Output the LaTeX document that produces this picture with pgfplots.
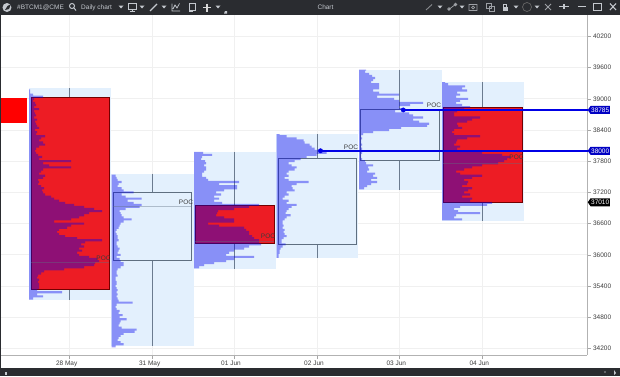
\documentclass[border=0pt]{standalone}
\usepackage{fontspec}
\setmainfont{Liberation Sans}
\usepackage{pgfplots}
\usepackage{pgfplotstable}
\pgfplotsset{compat=1.18}
\usetikzlibrary{shapes.symbols}
\definecolor{panelc}{HTML}{E3F0FD}
\definecolor{barc}{HTML}{2A2C30}
\definecolor{redc}{HTML}{ED1C24}
\definecolor{edgec}{HTML}{5F6F80}
\definecolor{wickc}{HTML}{6B7B8F}
\definecolor{poscol}{HTML}{0000E6}
\definecolor{profc}{rgb}{0,0,0.94}
\definecolor{tbc}{HTML}{C4C8CE}
\definecolor{lblc}{HTML}{3C3C3C}
\newcommand{\fs}{\fontsize{6.5}{7.5}\selectfont}
\begin{document}
\begin{tikzpicture}
\begin{axis}[
  scale only axis, width=586pt, height=340pt,
  xmin=1, xmax=587, ymin=34073, ymax=40611.5,
  clip=false,
  axis y line*=right, axis x line*=bottom,
  axis line style={-,draw=gray!60,line width=0.9pt},
  tick align=outside, major tick length=4pt,
  tick style={draw=gray!70,line width=0.5pt},
  grid=major, major grid style={draw=black!6,line width=0.7pt},
  xtick={69.7,152.7,234,317,399.3,482.3},
  xticklabels={28 May,31 May,01 Jun,02 Jun,03 Jun,04 Jun},
  ytick={34200,34800,35400,36000,36600,37200,37800,38400,39000,39600,40200},
  scaled y ticks=false,
  tick label style={font=\fs,text=lblc},
  xticklabel style={xshift=-3pt,yshift=1.5pt},
  yticklabel style={xshift=-1.5pt,/pgf/number format/.cd, fixed, 1000 sep={}, assume math mode=true},
]
\pgfplotsset{
  panel/.style={fill=panelc,draw=none},
  wick/.style={draw=wickc,line width=0.8pt},
  prof/.style={const plot,fill=profc,fill opacity=0.4,draw=none,mark=none},
  box/.style={fill=panelc,draw=edgec,line width=0.8pt},
  cand/.style={fill=redc,draw=black!55!red,line width=0.6pt},
  pocl/.style={draw=edgec,line width=0.5pt,opacity=0.4},
  hline/.style={draw=poscol,line width=1.8pt},
}
\addplot[panel] coordinates {(28.5,39200) (110.5,39200) (110.5,35140) (28.5,35140)} -- cycle;
\addplot[panel] coordinates {(111,37560) (193.5,37560) (193.5,34240) (111,34240)} -- cycle;
\addplot[panel] coordinates {(193.5,37980) (276,37980) (276,35730) (193.5,35730)} -- cycle;
\addplot[panel] coordinates {(276,38320) (358,38320) (358,35930) (276,35930)} -- cycle;
\addplot[panel] coordinates {(358.5,39560) (441.5,39560) (441.5,37245) (358.5,37245)} -- cycle;
\addplot[panel] coordinates {(441.5,39320) (523.5,39320) (523.5,36655) (441.5,36655)} -- cycle;
\addplot[wick] coordinates {(69.7,39200) (69.7,35140)};
\addplot[wick] coordinates {(152.7,37560) (152.7,34240)};
\addplot[wick] coordinates {(234,37980) (234,35730)};
\addplot[wick] coordinates {(317,38320) (317,35930)};
\addplot[wick] coordinates {(399.3,39560) (399.3,37245)};
\addplot[wick] coordinates {(482.3,39320) (482.3,36655)};
\addplot[fill=red,draw=none] coordinates {(1,39015) (27,39015) (27,38535) (1,38535)} -- cycle;
\addplot[cand] coordinates {(31,39029) (109,39029) (109,35343) (31,35343)} -- cycle;
\addplot[box] coordinates {(113.3,37194) (191.3,37194) (191.3,35900) (113.3,35900)} -- cycle;
\addplot[cand] coordinates {(195.3,36958) (273.8,36958) (273.8,36227) (195.3,36227)} -- cycle;
\addplot[box] coordinates {(278.7,37856) (356,37856) (356,36202) (278.7,36202)} -- cycle;
\addplot[box] coordinates {(360.7,38790) (439.3,38790) (439.3,37823) (360.7,37823)} -- cycle;
\addplot[cand] coordinates {(443.3,38829) (522,38829) (522,37010) (443.3,37010)} -- cycle;
% day 1 profile
\addplot[prof] table[x expr=\thisrow{w}+29, y expr=\thisrow{p}-20] {
p w
39200 0
39200 1
39160 1
39120 1
39080 4
39040 14
39000 5
38960 4
38920 6
38880 7
38840 5
38800 10
38760 5
38720 6
38680 7
38640 5
38600 8
38560 6
38520 7
38480 8
38440 10
38400 6
38360 8
38320 7
38280 16
38240 12
38200 10
38160 14
38120 16
38080 10
38040 7
38000 6
37960 7
37920 9
37880 13
37840 10
37800 42
37760 14
37720 20
37680 42
37640 14
37600 12
37560 10
37520 16
37480 14
37440 9
37400 10
37360 9
37320 12
37280 15
37240 13
37200 14
37160 16
37120 22
37080 25
37040 30
37000 36
36960 45
36920 55
36880 65
36840 73
36800 60
36760 55
36720 50
36680 42
36640 25
36600 55
36560 42
36520 38
36480 30
36440 28
36400 30
36360 36
36320 48
36280 73
36240 56
36200 52
36160 55
36120 50
36080 53
36040 48
36000 50
35960 60
35920 68
35880 70
35840 66
35800 65
35760 55
35720 35
35680 15
35640 12
35600 9
35560 8
35520 10
35480 9
35440 10
35400 10
35360 10
35320 8
35280 33
35240 8
35200 14
35160 4
35160 0
};
% day 2 profile
\addplot[prof] table[x expr=\thisrow{w}+111.5, y expr=\thisrow{p}-20] {
p w
37560 0
37560 4
37520 4
37480 5
37440 6
37400 10
37360 7
37320 6
37280 10
37240 12
37200 22
37160 10
37120 14
37080 30
37040 16
37000 22
36960 30
36920 28
36880 14
36840 8
36800 9
36760 10
36720 12
36680 20
36640 12
36600 9
36560 8
36520 7
36480 5
36440 4
36400 5
36360 6
36320 6
36280 7
36240 5
36200 5
36160 6
36120 8
36080 7
36040 6
36000 9
35960 5
35920 8
35880 9
35840 12
35800 12
35760 9
35720 6
35680 5
35640 5
35600 6
35560 4
35520 4
35480 5
35440 5
35400 4
35360 5
35320 6
35280 5
35240 6
35200 5
35160 6
35120 7
35080 21
35040 5
35000 4
34960 5
34920 8
34880 7
34840 11
34800 8
34760 15
34720 9
34680 8
34640 7
34600 10
34560 25
34520 23
34480 12
34440 9
34400 7
34360 6
34320 9
34280 12
34240 4
34240 0
};
% day 3 profile
\addplot[prof] table[x expr=\thisrow{w}+194, y expr=\thisrow{p}-20] {
p w
38000 0
37960 9
37920 18
37880 8
37840 7
37800 11
37760 12
37720 10
37680 12
37640 12
37600 10
37560 8
37520 8
37480 12
37440 14
37400 45
37360 25
37320 43
37280 43
37240 30
37200 22
37160 27
37120 20
37080 25
37040 20
37000 28
36960 65
36920 55
36880 40
36840 24
36800 23
36760 22
36720 30
36680 40
36640 40
36600 14
36560 25
36520 50
36480 52
36440 55
36400 55
36360 58
36320 60
36280 65
36240 65
36200 67
36160 55
36120 50
36080 40
36040 35
36000 32
35960 60
35920 40
35880 32
35840 20
35800 10
35760 5
35760 0
};
% day 4 profile
\addplot[prof] table[x expr=\thisrow{w}+276.5, y expr=\thisrow{p}-20] {
p w
38340 0
38320 3
38280 10
38240 20
38200 27
38160 28
38120 33
38080 35
38040 38
38000 45
37960 50
37920 40
37880 30
37840 24
37800 18
37760 12
37720 15
37680 20
37640 18
37600 12
37560 10
37520 12
37480 8
37440 12
37400 32
37360 20
37320 15
37280 16
37240 18
37200 10
37160 12
37120 8
37080 6
37040 12
37000 10
36960 20
36920 15
36880 12
36840 10
36800 9
36760 14
36720 10
36680 8
36640 6
36600 6
36560 7
36520 6
36480 8
36440 7
36400 8
36360 10
36320 7
36280 5
36240 5
36200 9
36160 6
36120 4
36080 3
36040 3
36000 2
35960 2
35960 0
};
% day 5 profile
\addplot[prof] table[x expr=\thisrow{w}+359, y expr=\thisrow{p}-20] {
p w
39580 0
39560 7
39520 6
39480 10
39440 13
39400 16
39360 14
39320 12
39280 20
39240 20
39200 20
39160 14
39120 20
39080 40
39040 18
39000 35
38960 40
38920 64
38880 51
38840 40
38800 44
38760 36
38720 50
38680 54
38640 64
38600 54
38560 60
38520 70
38480 68
38440 42
38400 30
38360 14
38320 4
38280 2
38240 3
38200 2
38160 2
38120 3
38080 2
38040 3
38000 2
37960 3
37920 2
37880 2
37840 3
37800 6
37760 7
37720 14
37680 9
37640 10
37600 8
37560 16
37520 14
37480 18
37440 12
37400 18
37360 12
37320 8
37280 5
37280 0
};
% day 6 profile
\addplot[prof] table[x expr=\thisrow{w}+442, y expr=\thisrow{p}-20] {
p w
39340 0
39320 3
39280 6
39240 23
39200 20
39160 25
39120 15
39080 18
39040 14
39000 26
38960 18
38920 14
38880 20
38840 28
38800 22
38760 15
38720 12
38680 12
38640 38
38600 30
38560 25
38520 15
38480 16
38440 20
38400 12
38360 10
38320 12
38280 38
38240 25
38200 15
38160 14
38120 12
38080 18
38040 15
38000 14
37960 40
37920 60
37880 68
37840 65
37800 62
37760 56
37720 40
37680 30
37640 22
37600 14
37560 18
37520 40
37480 30
37440 22
37400 26
37360 25
37320 20
37280 30
37240 26
37200 22
37160 28
37120 20
37080 30
37040 28
37000 50
36960 45
36920 18
36880 12
36840 16
36800 38
36760 14
36720 12
36680 20
36680 0
};
\addplot[pocl] coordinates {(31,35862) (109,35862)};
\addplot[pocl] coordinates {(113.3,36925) (191.3,36925)};
\addplot[pocl] coordinates {(195.3,36265) (273.8,36265)};
\addplot[pocl] coordinates {(443.3,37766) (522,37766)};
\addplot[hline] coordinates {(320.5,38000) (588,38000)};
\addplot[hline] coordinates {(403.3,38785) (588,38785)};
\addplot[only marks,mark=*,mark size=2.2pt,mark options={fill=poscol,draw=poscol}] coordinates {(320.5,38000) (403.3,38785)};
\foreach \x/\p in {103.5/35939,186/37016,268/36362,351/38073,434/38871,516.5/37881}{
  \edef\tmp{\noexpand\node[font=\noexpand\fs,text=lblc,inner sep=0pt] at (axis cs:\x,\p) {POC};}\tmp
}
\node[signal,signal to=west,signal pointer angle=110,fill=poscol!85!black,text=white,font=\fs,inner sep=0.6pt,minimum height=8pt,anchor=west] at (axis cs:587.5,38785) {38785};
\node[signal,signal to=west,signal pointer angle=110,fill=poscol!85!black,text=white,font=\fs,inner sep=0.6pt,minimum height=8pt,anchor=west] at (axis cs:587.5,38000) {38000};
\node[signal,signal to=west,signal pointer angle=110,fill=black,text=white,font=\fs,inner sep=0.6pt,minimum height=8pt,anchor=west] at (axis cs:587.5,37010) {37010};
\end{axis}
\begin{scope}[shift={(-1pt,355pt)},x=1pt,y=-1pt]
\path[use as bounding box] (0,0) rectangle (620,376);
\fill[barc] (0,0) rectangle (620,15);
\fill[barc] (0,368) rectangle (620,376);
\fill[barc] (0,15) rectangle (1,368);
\fill[tbc] (7,7.5) circle (4.5);
\fill[barc] (7.5,6) -- (11,4) -- (9,9) -- (5,10) -- cycle;
\node[font=\fs,text=tbc,anchor=west,inner sep=0pt] at (17,7.5) {\#BTCM1@CME};
\draw[tbc,line width=1pt] (72,6) circle (2.5) (74,8) -- (76,10.5);
\node[font=\fs,text=tbc,anchor=west,inner sep=0pt] at (81,7.5) {Daily chart};
\foreach \x in {121,142,164,218,440,462,516,537}{\fill[tbc] (\x-2.5,5.5) -- (\x+2.5,5.5) -- (\x,8.5) -- cycle;}
\draw[tbc,line width=0.7pt] (128,3.5) rectangle (136,9.5) (132,9.5) -- (132,11) (129.5,11) -- (134.5,11);
\draw[tbc,line width=1.2pt] (150,11) -- (157,4);
\draw[tbc,line width=0.7pt] (172,3.5) -- (172,11) -- (180,11) (173,9) -- (175,5) -- (177,8) -- (179.5,3.5);
\draw[tbc,line width=0.8pt] (189,3.5) rectangle (195,10) (189,11) -- (193,11);
\draw[white!85!black,line width=1.4pt] (203,7.5) -- (211,7.5) (207,3.5) -- (207,11.5);
\fill[tbc] (225,11) -- (227,11) -- (227,13.5) -- (224,13.5)-- cycle;
\node[font=\fs,text=tbc,inner sep=0pt] at (325.5,7.5) {Chart};
\draw[tbc!70!black,line width=0.9pt] (426,10) -- (432,4.5);
\draw[tbc!80!black,line width=0.7pt] (448,10) -- (456,4) (449,9) circle (1.3) (455.5,4.5) circle (1.3);
\draw[tbc!80!black,line width=0.7pt] (469,4.5) rectangle (477,10.5) (473,7.5) circle (1.5);
\draw[tbc!80!black,line width=0.7pt] (486,3.5) rectangle (491,8.5) (489,6.5) rectangle (494,11);
\fill[tbc] (502.5,6.5) rectangle (507.5,11);
\draw[tbc,line width=0.7pt] (503.5,6.5) -- (503.5,4.5) -- (506.5,4.5) -- (506.5,6.5);
\draw[black!60,line width=0.7pt] (527,7) circle (4.5);
\draw[tbc!80!black,line width=0.9pt] (545,10) -- (551,4) (545,4) -- (551,10);
\draw[tbc,line width=1.3pt] (559,6.5) -- (569,6.5) (564,4) -- (564,9);
\draw[tbc,line width=1.2pt] (578,6.5) -- (586,6.5);
\draw[tbc,line width=0.8pt] (593,3.5) rectangle (601,10);
\draw[tbc,line width=1.1pt] (610,3.5) -- (616,10) (616,3.5) -- (610,10);
\fill[tbc] (5,371.5) rectangle (7,375);
\fill[tbc!60!black] (605,372) circle (1.2);
\fill[tbc] (614,370) -- (616,373) -- (614,375) -- cycle;
\end{scope}
\end{tikzpicture}
\end{document}
